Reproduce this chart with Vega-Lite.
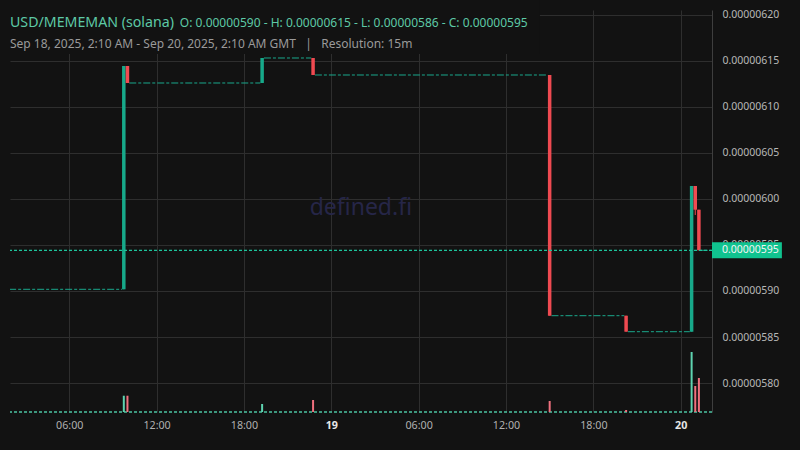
{
  "$schema": "https://vega.github.io/schema/vega-lite/v6.json",
  "width": 702,
  "height": 402,
  "autosize": {"type": "none"},
  "padding": {"left": 10, "top": 10, "right": 88, "bottom": 38},
  "background": "#121212",
  "config": {"view": {"stroke": null}, "font": "Noto Sans"},
  "datasets": {
    "candles": [
      {"time": "2025-09-18T09:45:00Z", "open": 0.00000590185, "high": 0.00000614457, "low": 0.00000590185, "close": 0.00000614457, "volume": 4.05},
      {"time": "2025-09-18T10:00:00Z", "open": 0.00000614457, "high": 0.00000614457, "low": 0.00000612609, "close": 0.00000612609, "volume": 4.05},
      {"time": "2025-09-18T19:15:00Z", "open": 0.00000612609, "high": 0.00000615326, "low": 0.00000612609, "close": 0.00000615326, "volume": 1.99},
      {"time": "2025-09-18T22:45:00Z", "open": 0.00000615326, "high": 0.00000615326, "low": 0.00000613478, "close": 0.00000613478, "volume": 2.99},
      {"time": "2025-09-19T15:00:00Z", "open": 0.00000613478, "high": 0.00000613478, "low": 0.00000587315, "close": 0.00000587315, "volume": 2.74},
      {"time": "2025-09-19T20:15:00Z", "open": 0.00000587315, "high": 0.00000587315, "low": 0.00000585576, "close": 0.00000585576, "volume": 0.5},
      {"time": "2025-09-20T00:45:00Z", "open": 0.00000585576, "high": 0.00000601413, "low": 0.00000585576, "close": 0.00000601413, "volume": 14.93},
      {"time": "2025-09-20T01:00:00Z", "open": 0.00000601413, "high": 0.00000601413, "low": 0.00000598261, "close": 0.00000598837, "volume": 6.47},
      {"time": "2025-09-20T01:15:00Z", "open": 0.00000598837, "high": 0.00000598837, "low": 0.00000594424, "close": 0.00000594424, "volume": 8.46}
    ],
    "flats": [
      {"from": "2025-09-18T01:52:30Z", "to": "2025-09-18T09:37:30Z", "price": 0.00000590185},
      {"from": "2025-09-18T10:07:30Z", "to": "2025-09-18T19:07:30Z", "price": 0.00000612609},
      {"from": "2025-09-18T19:22:30Z", "to": "2025-09-18T22:37:30Z", "price": 0.00000615326},
      {"from": "2025-09-18T22:52:30Z", "to": "2025-09-19T14:52:30Z", "price": 0.00000613478},
      {"from": "2025-09-19T15:07:30Z", "to": "2025-09-19T20:07:30Z", "price": 0.00000587315},
      {"from": "2025-09-19T20:22:30Z", "to": "2025-09-20T00:37:30Z", "price": 0.00000585576},
      {"from": "2025-09-20T01:22:30Z", "to": "2025-09-20T02:07:30Z", "price": 0.00000594424}
    ]
  },
  "layer": [
    {
      "data": {"name": "flats"},
      "mark": {"type": "rule", "color": "#1aa88c", "strokeWidth": 1, "strokeDash": [7, 2, 3, 2], "clip": true},
      "encoding": {
        "x": {
          "field": "from",
          "type": "temporal",
          "scale": {"domain": [1758160560000, 1758334140000], "padding": 0, "nice": false},
          "axis": {
            "orient": "bottom",
            "title": null,
            "tickCount": 8,
            "labelExpr": "utchours(datum.value) == 0 ? utcFormat(datum.value, '%-d') : utcFormat(datum.value, '%H:%M')",
            "labelFontWeight": {"condition": {"test": "utchours(datum.value) == 0", "value": "bold"}, "value": "normal"},
            "labelColor": {"condition": {"test": "utchours(datum.value) == 0", "value": "#e6e6e6"}, "value": "#b0b0b0"},
            "labelFont": "Noto Sans",
            "labelFontSize": 10.7,
            "labelPadding": 8,
            "labelFlush": false,
            "ticks": false,
            "domain": false,
            "grid": true,
            "gridColor": "#2e2e2e",
            "gridWidth": 1
          }
        },
        "x2": {"field": "to"},
        "y": {
          "field": "price",
          "type": "quantitative",
          "scale": {"domain": [0.00000576848, 0.00000620543], "nice": false, "zero": false},
          "axis": {
            "orient": "right",
            "title": null,
            "values": [0.0000058, 0.00000585, 0.0000059, 0.00000595, 0.000006, 0.00000605, 0.0000061, 0.00000615, 0.0000062],
            "format": ".8f",
            "labelFont": "Noto Sans",
            "labelFontSize": 10.5,
            "labelColor": "#b8b8b8",
            "labelPadding": 10,
            "ticks": false,
            "domain": true,
            "domainColor": "#3e3e3e",
            "grid": true,
            "gridColor": "#2e2e2e",
            "gridWidth": 1
          }
        }
      }
    },
    {
      "data": {"values": [{}]},
      "mark": {"type": "rect", "color": "#121212"},
      "encoding": {
        "x": {"datum": 1758153600000, "type": "temporal"},
        "x2": {"datum": 1758291600000},
        "y": {"datum": 0.0000062300, "type": "quantitative", "scale": {"domain": [0.00000576848, 0.00000620543], "nice": false, "zero": false}, "axis": null},
        "y2": {"datum": 0.00000615761}
      }
    },
    {
      "data": {"name": "candles"},
      "mark": {"type": "rule", "strokeWidth": 1},
      "encoding": {
        "x": {"field": "time", "type": "temporal"},
        "y": {"field": "low", "type": "quantitative", "scale": {"domain": [0.00000576848, 0.00000620543], "nice": false, "zero": false}, "axis": null},
        "y2": {"field": "high"},
        "color": {"condition": {"test": "datum.close >= datum.open", "value": "#17a98a"}, "value": "#ef4a51"}
      }
    },
    {
      "data": {"name": "candles"},
      "mark": {"type": "bar", "size": 3.5},
      "encoding": {
        "x": {"field": "time", "type": "temporal"},
        "y": {"field": "open", "type": "quantitative", "scale": {"domain": [0.00000576848, 0.00000620543], "nice": false, "zero": false}, "axis": null},
        "y2": {"field": "close"},
        "color": {"condition": {"test": "datum.close >= datum.open", "value": "#17a98a"}, "value": "#ef4a51"}
      }
    },
    {
      "data": {"values": [{}]},
      "mark": {"type": "rule", "color": "#1dc39b", "strokeWidth": 1.2, "strokeDash": [3, 2]},
      "encoding": {
        "y": {"datum": 0.00000594424, "type": "quantitative", "scale": {"domain": [0.00000576848, 0.00000620543], "nice": false, "zero": false}, "axis": null}
      }
    },
    {
      "data": {"values": [{"label": "defined.fi"}]},
      "mark": {"type": "text", "color": "#262648", "fontSize": 23, "align": "center", "baseline": "alphabetic", "font": "Noto Sans"},
      "encoding": {
        "x": {"datum": 1758247320000, "type": "temporal"},
        "y": {"datum": 0.00000598261, "type": "quantitative", "scale": {"domain": [0.00000576848, 0.00000620543], "nice": false, "zero": false}, "axis": null},
        "text": {"field": "label"}
      }
    },
    {
      "data": {"values": [{"label": "USD/MEMEMAN (solana)"}]},
      "mark": {"type": "text", "color": "#5dc9a6", "fontSize": 14.2, "align": "left", "baseline": "alphabetic", "font": "Noto Sans"},
      "encoding": {
        "x": {"datum": 1758160560000, "type": "temporal"},
        "y": {"datum": 0.00000618717, "type": "quantitative", "scale": {"domain": [0.00000576848, 0.00000620543], "nice": false, "zero": false}, "axis": null},
        "text": {"field": "label"}
      }
    },
    {
      "data": {"values": [{"label": "O: 0.00000590 - H: 0.00000615 - L: 0.00000586 - C: 0.00000595"}]},
      "mark": {"type": "text", "color": "#5dc9a6", "fontSize": 12, "align": "left", "baseline": "alphabetic", "font": "Noto Sans"},
      "encoding": {
        "x": {"datum": 1758202560000, "type": "temporal"},
        "y": {"datum": 0.00000618717, "type": "quantitative", "scale": {"domain": [0.00000576848, 0.00000620543], "nice": false, "zero": false}, "axis": null},
        "text": {"field": "label"}
      }
    },
    {
      "data": {"values": [{"label": "Sep 18, 2025, 2:10 AM - Sep 20, 2025, 2:10 AM GMT \u00a0\u00a0|\u00a0\u00a0 Resolution: 15m"}]},
      "mark": {"type": "text", "color": "#9a9a9a", "fontSize": 12, "align": "left", "baseline": "alphabetic", "font": "Noto Sans"},
      "encoding": {
        "x": {"datum": 1758160560000, "type": "temporal"},
        "y": {"datum": 0.00000616391, "type": "quantitative", "scale": {"domain": [0.00000576848, 0.00000620543], "nice": false, "zero": false}, "axis": null},
        "text": {"field": "label"}
      }
    },
    {
      "data": {"values": [{}]},
      "mark": {"type": "rect", "color": "#10c38f"},
      "encoding": {
        "x": {"datum": 1758334140000, "type": "temporal"},
        "x2": {"datum": 1758351420000},
        "y": {"datum": 0.00000595293, "type": "quantitative", "scale": {"domain": [0.00000576848, 0.00000620543], "nice": false, "zero": false}, "axis": null},
        "y2": {"datum": 0.00000593554}
      }
    },
    {
      "data": {"values": [{"label": "0.00000595"}]},
      "mark": {"type": "text", "color": "#f4f4f4", "fontSize": 10.5, "align": "left", "baseline": "middle", "font": "Noto Sans"},
      "encoding": {
        "x": {"datum": 1758336600000, "type": "temporal"},
        "y": {"datum": 0.00000594424, "type": "quantitative", "scale": {"domain": [0.00000576848, 0.00000620543], "nice": false, "zero": false}, "axis": null},
        "text": {"field": "label"}
      }
    },
    {
      "data": {"values": [{}]},
      "mark": {"type": "rule", "color": "#4cc4a3", "strokeWidth": 1.5, "strokeDash": [3, 2]},
      "encoding": {
        "y": {"datum": 0, "type": "quantitative", "scale": {"domain": [0, 100]}, "axis": null}
      }
    },
    {
      "data": {"name": "candles"},
      "mark": {"type": "bar", "size": 2},
      "encoding": {
        "x": {"field": "time", "type": "temporal"},
        "y": {"field": "volume", "type": "quantitative", "scale": {"domain": [0, 100]}, "axis": null},
        "color": {"condition": {"test": "datum.close >= datum.open", "value": "#5ed3b0"}, "value": "#f0707e"}
      }
    }
  ],
  "resolve": {"scale": {"y": "independent"}}
}
